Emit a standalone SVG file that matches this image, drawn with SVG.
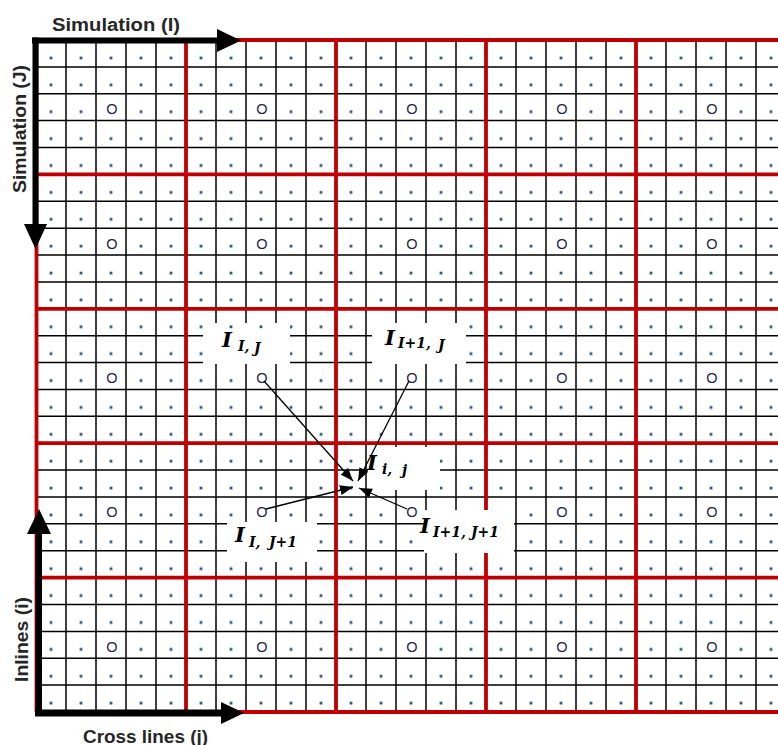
<svg xmlns="http://www.w3.org/2000/svg" width="778" height="745" viewBox="0 0 778 745">
<style>
.gl{stroke:#000;stroke-width:1.5;fill:none}
.rl{stroke:#c00000;stroke-width:3.8;fill:none}
.o{font-family:"Liberation Sans",Arial,sans-serif;font-size:14.5px;fill:#1a2350;text-anchor:middle}
.box{fill:#fff}
.mi{font-family:"DejaVu Serif",serif;font-style:italic;font-weight:bold;font-size:21px;fill:#000}
.si{font-family:"DejaVu Serif",serif;font-style:italic;font-weight:bold;font-size:14px;fill:#000}
.ax{font-family:"Liberation Sans",Arial,sans-serif;font-weight:bold;font-size:17.5px;fill:#262626}
.ar{stroke:#000;stroke-width:1.3;fill:none;marker-end:url(#ah)}
.bk{fill:#000}
.dw{fill:#fff}
.dt{fill:#35558a}
</style>
<defs>
<pattern id="dots" x="36" y="40" width="30" height="26.88" patternUnits="userSpaceOnUse">
<rect x="13.6" y="16.6" width="2.8" height="2.8" fill="#35558a"/>
</pattern>
<marker id="ah" markerUnits="userSpaceOnUse" markerWidth="13" markerHeight="10" refX="13" refY="5" orient="auto">
<path d="M0,0 L13,5 L0,10 z" fill="#000"/>
</marker>
</defs>
<g id="grid">
<path class="gl" d="M66,40V712M96,40V712M126,40V712M156,40V712M216,40V712M246,40V712M276,40V712M306,40V712M366,40V712M396,40V712M426,40V712M456,40V712M516,40V712M546,40V712M576,40V712M606,40V712M666,40V712M696,40V712M726,40V712M756,40V712"/>
<path class="gl" d="M36,66.9H778M36,93.8H778M36,120.6H778M36,147.5H778M36,201.3H778M36,228.2H778M36,255H778M36,281.9H778M36,335.7H778M36,362.6H778M36,389.4H778M36,416.3H778M36,470.1H778M36,497H778M36,523.8H778M36,550.7H778M36,604.5H778M36,631.4H778M36,658.2H778M36,685.1H778"/>
<path class="rl" d="M36.5,40V712M186,40V712M336,40V712M486,40V712M636,40V712"/>
<path class="rl" d="M36,40H778M36,174.4H778M36,308.8H778M36,443.2H778M36,577.6H778M36,712H778"/>
<rect x="36" y="40" width="742" height="672" fill="url(#dots)"/>
</g>
<g id="markers">
<g class="dw">
<rect x="108" y="109" width="6" height="6"/><rect x="258" y="109" width="6" height="6"/><rect x="408" y="109" width="6" height="6"/><rect x="558" y="109" width="6" height="6"/><rect x="708" y="109" width="6" height="6"/>
<rect x="108" y="243.5" width="6" height="6"/><rect x="258" y="243.5" width="6" height="6"/><rect x="408" y="243.5" width="6" height="6"/><rect x="558" y="243.5" width="6" height="6"/><rect x="708" y="243.5" width="6" height="6"/>
<rect x="108" y="378" width="6" height="6"/><rect x="258" y="378" width="6" height="6"/><rect x="408" y="378" width="6" height="6"/><rect x="558" y="378" width="6" height="6"/><rect x="708" y="378" width="6" height="6"/>
<rect x="108" y="512" width="6" height="6"/><rect x="258" y="512" width="6" height="6"/><rect x="408" y="512" width="6" height="6"/><rect x="558" y="512" width="6" height="6"/><rect x="708" y="512" width="6" height="6"/>
<rect x="108" y="646.5" width="6" height="6"/><rect x="258" y="646.5" width="6" height="6"/><rect x="408" y="646.5" width="6" height="6"/><rect x="558" y="646.5" width="6" height="6"/><rect x="708" y="646.5" width="6" height="6"/>
</g>
<text class="o" x="112" y="114">O</text><text class="o" x="262" y="114">O</text><text class="o" x="412" y="114">O</text><text class="o" x="562" y="114">O</text><text class="o" x="712" y="114">O</text>
<text class="o" x="112" y="248.5">O</text><text class="o" x="262" y="248.5">O</text><text class="o" x="412" y="248.5">O</text><text class="o" x="562" y="248.5">O</text><text class="o" x="712" y="248.5">O</text>
<text class="o" x="112" y="383">O</text><text class="o" x="262" y="383">O</text><text class="o" x="412" y="383">O</text><text class="o" x="562" y="383">O</text><text class="o" x="712" y="383">O</text>
<text class="o" x="112" y="517">O</text><text class="o" x="262" y="517">O</text><text class="o" x="412" y="517">O</text><text class="o" x="562" y="517">O</text><text class="o" x="712" y="517">O</text>
<text class="o" x="112" y="651.5">O</text><text class="o" x="262" y="651.5">O</text><text class="o" x="412" y="651.5">O</text><text class="o" x="562" y="651.5">O</text><text class="o" x="712" y="651.5">O</text>
</g>
<g id="label-IJ">
<rect class="box" x="203" y="323" width="87" height="41"/>
<rect class="dt" x="229.6" y="325.4" width="2.8" height="2.8"/><rect class="dt" x="259.6" y="325.4" width="2.8" height="2.8"/>
<text class="mi" x="222" y="347">I</text><text class="si" x="238" y="351">I,</text><text class="si" x="254" y="353">J</text>
</g>
<g id="label-I1J">
<rect class="box" x="372" y="323" width="94" height="41"/>
<text class="mi" x="385" y="345">I</text><text class="si" x="398" y="348">I+1,</text><text class="si" x="438" y="350">J</text>
</g>
<g id="label-ij">
<rect class="box" x="368" y="447" width="72" height="43"/>
<text class="mi" x="367" y="470">I</text><text class="si" x="382" y="474">i,</text><text class="si" x="402" y="475">j</text>
</g>
<g id="label-IJ1">
<rect class="box" x="227" y="522" width="90" height="40"/>
<text class="mi" x="235" y="542">I</text><text class="si" x="249" y="547">I,</text><text class="si" x="269" y="547">J+1</text>
</g>
<g id="label-I1J1">
<rect class="box" x="424" y="510" width="90" height="43"/>
<text class="mi" x="420" y="533">I</text><text class="si" x="433" y="537">I+1,</text><text class="si" x="471" y="537">J+1</text>
</g>
<g id="connectors">
<line class="ar" x1="264" y1="381" x2="353" y2="481"/>
<line class="ar" x1="409" y1="381" x2="358" y2="481"/>
<line class="ar" x1="266" y1="509" x2="353" y2="487"/>
<line class="ar" x1="407" y1="509" x2="359" y2="488"/>
</g>
<g id="axes">
<rect class="bk" x="32" y="37.5" width="188" height="6"/>
<polygon class="bk" points="217,29 241,40.5 217,52"/>
<rect class="bk" x="32.5" y="37.5" width="6" height="190"/>
<polygon class="bk" points="24,224 35.5,249 47,224"/>
<rect class="bk" x="35" y="709.5" width="190" height="7"/>
<polygon class="bk" points="221,702 244,713 221,724"/>
<rect class="bk" x="35.5" y="530" width="6.5" height="186"/>
<polygon class="bk" points="27,534 39,509 51,534"/>
<text class="ax" x="52" y="31" textLength="128" lengthAdjust="spacingAndGlyphs">Simulation (I)</text>
<text class="ax" transform="translate(26,193) rotate(-90)" textLength="128" lengthAdjust="spacingAndGlyphs">Simulation (J)</text>
<text class="ax" transform="translate(28,682) rotate(-90)" textLength="85" lengthAdjust="spacingAndGlyphs">Inlines (i)</text>
<text class="ax" x="83" y="742.5" textLength="125" lengthAdjust="spacingAndGlyphs">Cross lines (j)</text>
</g>
</svg>
